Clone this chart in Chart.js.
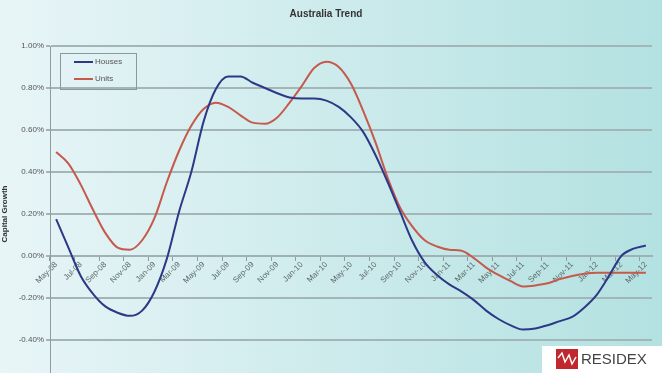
<!DOCTYPE html>
<html>
<head>
<meta charset="utf-8">
<script src="https://cdn.jsdelivr.net/npm/chart.js@4"></script>
<style>
  html, body { margin: 0; padding: 0; overflow: hidden; }
  body { width: 662px; height: 373px; }
  #wrap { width: 662px; height: 390px; }
</style>
</head>
<body>
<div id="wrap"><canvas id="Chart"></canvas></div>
<script>
// months May-08 .. May-12
const months = [
  'May-08','Jun-08','Jul-08','Aug-08','Sep-08','Oct-08','Nov-08','Dec-08',
  'Jan-09','Feb-09','Mar-09','Apr-09','May-09','Jun-09','Jul-09','Aug-09','Sep-09','Oct-09','Nov-09','Dec-09',
  'Jan-10','Feb-10','Mar-10','Apr-10','May-10','Jun-10','Jul-10','Aug-10','Sep-10','Oct-10','Nov-10','Dec-10',
  'Jan-11','Feb-11','Mar-11','Apr-11','May-11','Jun-11','Jul-11','Aug-11','Sep-11','Oct-11','Nov-11','Dec-11',
  'Jan-12','Feb-12','Mar-12','Apr-12','May-12'
];

// capital growth, %
const houses = [
  0.176, 0.04, -0.095, -0.18, -0.24, -0.27, -0.285, -0.26,
  -0.17, -0.015, 0.21, 0.40, 0.64, 0.795, 0.855, 0.855, 0.825, 0.80, 0.775, 0.755,
  0.75, 0.75, 0.74, 0.71, 0.66, 0.59, 0.48, 0.35, 0.21, 0.07, -0.03, -0.09,
  -0.135, -0.17, -0.21, -0.26, -0.30, -0.33, -0.35, -0.345, -0.33, -0.31, -0.29, -0.245,
  -0.185, -0.095, 0.0, 0.035, 0.05
];
const units = [
  0.495, 0.44, 0.34, 0.22, 0.11, 0.04, 0.03, 0.075,
  0.18, 0.35, 0.50, 0.62, 0.70, 0.73, 0.71, 0.67, 0.635, 0.63, 0.66, 0.73,
  0.81, 0.895, 0.925, 0.90, 0.82, 0.69, 0.54, 0.37, 0.23, 0.14, 0.075, 0.045,
  0.03, 0.025, -0.01, -0.055, -0.09, -0.12, -0.145, -0.14, -0.13, -0.11, -0.095, -0.085,
  -0.08, -0.08, -0.08, -0.08, -0.08
];

const yTicks = [-0.6, -0.4, -0.2, 0, 0.2, 0.4, 0.6, 0.8, 1.0];

// background gradient behind everything
const bgPlugin = {
  id: 'bg',
  beforeDraw(chart) {
    const ctx = chart.ctx;
    const g = ctx.createLinearGradient(0, 0, chart.width, 0);
    g.addColorStop(0, '#e8f5f7');
    g.addColorStop(1, '#b3e1e1');
    ctx.save();
    ctx.fillStyle = g;
    ctx.fillRect(0, 0, chart.width, chart.height);
    ctx.restore();
  }
};

// excel style legend box + residex logo
const extrasPlugin = {
  id: 'extras',
  afterDraw(chart) {
    const ctx = chart.ctx;
    ctx.save();
    // legend
    ctx.strokeStyle = '#8a9a9c';
    ctx.lineWidth = 1;
    ctx.strokeRect(60.5, 53.5, 76, 36);
    chart.data.datasets.forEach((ds, i) => {
      const y = 62 + i * 17;
      ctx.strokeStyle = ds.borderColor;
      ctx.lineWidth = 2;
      ctx.beginPath();
      ctx.moveTo(74, y);
      ctx.lineTo(93, y);
      ctx.stroke();
      ctx.fillStyle = '#555';
      ctx.font = '8px "Liberation Sans", Arial, sans-serif';
      ctx.textBaseline = 'middle';
      ctx.fillText(ds.label, 95, y);
    });
    // logo
    ctx.fillStyle = '#ffffff';
    ctx.fillRect(542, 346, 120, 27);
    ctx.fillStyle = '#c0282d';
    ctx.fillRect(556, 349, 22, 20);
    ctx.strokeStyle = '#ffffff';
    ctx.lineWidth = 1.5;
    ctx.beginPath();
    ctx.moveTo(558, 358);
    ctx.lineTo(562, 353);
    ctx.lineTo(565, 362);
    ctx.lineTo(569, 355);
    ctx.lineTo(572, 364);
    ctx.lineTo(576, 357);
    ctx.stroke();
    ctx.fillStyle = '#444';
    ctx.font = '15px "Liberation Sans", Arial, sans-serif';
    ctx.textBaseline = 'middle';
    ctx.fillText('RESIDEX', 581, 360);
    ctx.restore();
  }
};

const ctx = document.getElementById('Chart').getContext('2d');
const myChart = new Chart(ctx, {
  type: 'line',
  data: {
    labels: months,
    datasets: [
      {
        label: 'Houses',
        data: houses,
        borderColor: '#2d3886',
        borderWidth: 2,
        pointRadius: 0,
        cubicInterpolationMode: 'monotone',
        fill: false
      },
      {
        label: 'Units',
        data: units,
        borderColor: '#c5594c',
        borderWidth: 2,
        pointRadius: 0,
        cubicInterpolationMode: 'monotone',
        fill: false
      }
    ]
  },
  plugins: [bgPlugin, extrasPlugin],
  options: {
    responsive: true,
    maintainAspectRatio: false,
    animation: false,
    layout: { padding: { left: 0, right: 10, top: 0, bottom: 8 } },
    plugins: {
      legend: { display: false },
      tooltip: { enabled: false },
      title: {
        display: true,
        text: 'Australia Trend',
        color: '#333',
        font: { family: '"Liberation Sans", Arial, sans-serif', size: 10, weight: 'bold' },
        padding: { top: 8, bottom: 26 }
      }
    },
    scales: {
      x: {
        type: 'category',
        offset: true,
        position: { y: 0 },
        grid: {
          drawOnChartArea: false,
          offset: true,
          tickLength: 4,
          color: c => (c.index % 2 === 0 ? '#8e9ea0' : 'rgba(0,0,0,0)')
        },
        border: { color: '#9fb1b3', width: 2 },
        ticks: {
          autoSkip: false,
          minRotation: 45,
          maxRotation: 45,
          padding: 0,
          color: '#5f6a6b',
          font: { family: '"Liberation Sans", Arial, sans-serif', size: 8 },
          callback: function(value, index) {
            return index % 2 === 0 ? months[index] : '';
          }
        }
      },
      y: {
        min: -0.6,
        max: 1.0,
        afterBuildTicks: axis => { axis.ticks = yTicks.map(v => ({ value: v })); },
        afterFit: axis => { axis.width = 50; },
        grid: { color: '#a3b5b7', lineWidth: 2, drawTicks: true, tickLength: 4 },
        border: { color: '#8e9ea0', width: 1 },
        title: {
          display: true,
          text: 'Capital Growth',
          color: '#333',
          font: { family: '"Liberation Sans", Arial, sans-serif', size: 8, weight: 'bold' },
          padding: 0
        },
        ticks: {
          color: '#555',
          padding: 2,
          font: { family: '"Liberation Sans", Arial, sans-serif', size: 8 },
          callback: value => value.toFixed(2) + '%'
        }
      }
    }
  }
});
</script>
</body>
</html>
